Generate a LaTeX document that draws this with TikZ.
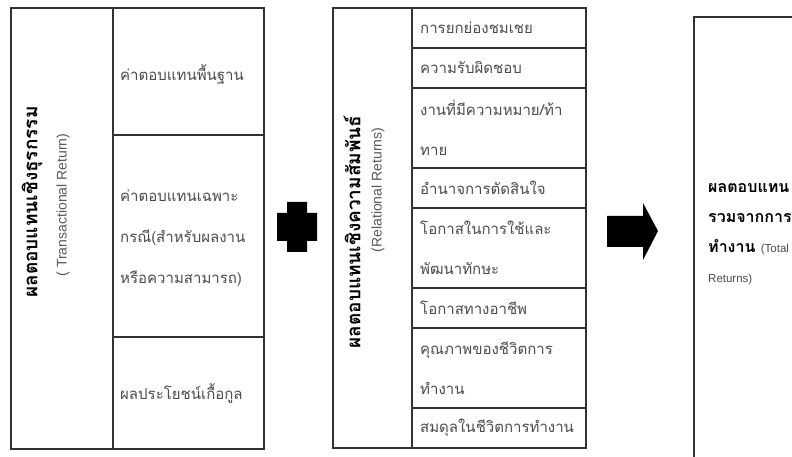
\documentclass[tikz,border=0pt]{standalone}
\usepackage{fontspec}
\setmainfont{Liberation Sans}
\newfontfamily\thai[Script=Thai]{Loma}
\begin{document}
\begin{tikzpicture}[x=1bp,y=-1bp,
  frame/.style={draw=black!80, line width=1.3bp},
  cell/.style={anchor=west, inner sep=0pt, align=left, text=black!70, font=\thai\fontsize{15bp}{40bp}\selectfont},
  vbold/.style={rotate=90, inner sep=0pt, font=\thai\bfseries\fontsize{19bp}{20bp}\selectfont},
  veng/.style={rotate=90, inner sep=0pt, text=black!65, font=\fontsize{14bp}{16bp}\selectfont},
  total/.style={anchor=west, inner sep=0pt, align=left, font=\thai\bfseries\fontsize{16bp}{30bp}\selectfont},
  small/.style={font=\mdseries\rmfamily\fontsize{11.5bp}{30bp}\selectfont},
  blob/.style={fill=black, draw=none}]
\useasboundingbox (0,0) rectangle (792,457);
\fill[white] (0,0) rectangle (792,457);

% ---- left block: transactional returns
\draw[frame] (11,8) rectangle (264,449);
\draw[frame] (113,8) -- (113,449);
\draw[frame] (113,135) -- (264,135);
\draw[frame] (113,337) -- (264,337);
\node[vbold] (tb) at (32,202) {ผลตอบแทนเชิงธุรกรรม};
\node[veng] (te) at (63,205) {( Transactional Return)};
\node[cell] (t1) at (120,75) {ค่าตอบแทนพื้นฐาน};
\node[cell, font=\thai\fontsize{15bp}{41bp}\selectfont] (t2) at (120,238) {ค่าตอบแทนเฉพาะ\\กรณี(สำหรับผลงาน\\หรือความสามารถ)};
\node[cell] (t3) at (120,394) {ผลประโยชน์เกื้อกูล};

% ---- plus sign
\fill[blob] (287,202) -- (307,202) -- (307,213) -- (317,213) -- (317,241) -- (307,241)
  -- (307,252) -- (287,252) -- (287,241) -- (277,241) -- (277,213) -- (287,213) -- cycle;

% ---- middle block: relational returns
\draw[frame] (333,8) rectangle (586,448);
\draw[frame] (412,8) -- (412,448);
\foreach \yy in {48,88,168,208,288,328,408}
  \draw[frame] (412,\yy) -- (586,\yy);
\node[vbold] (rb) at (352,232) {ผลตอบแทนเชิงความสัมพันธ์};
\node[veng] (re) at (378,190) {(Relational Returns)};
\node[cell] (r1) at (420,28) {การยกย่องชมเชย};
\node[cell] (r2) at (420,68) {ความรับผิดชอบ};
\node[cell] (r3) at (420,128) {งานที่มีความหมาย/ท้า\\ทาย};
\node[cell] (r4) at (420,188) {อำนาจการตัดสินใจ};
\node[cell] (r5) at (420,248) {โอกาสในการใช้และ\\พัฒนาทักษะ};
\node[cell] (r6) at (420,308) {โอกาสทางอาชีพ};
\node[cell] (r7) at (420,368) {คุณภาพของชีวิตการ\\ทำงาน};
\node[cell] (r8) at (420,428) {สมดุลในชีวิตการทำงาน};

% ---- arrow
\fill[blob] (607,216) -- (643,216) -- (643,203) -- (658,231) -- (643,260) -- (643,247) -- (607,247) -- cycle;

% ---- right block: total returns
\draw[frame] (800,17) -- (694,17) -- (694,470);
\node[total] (tt) at (708,234) {ผลตอบแทน\\รวมจากการ\\ทำงาน {\color{black!70}\mdseries\rmfamily\fontsize{11.5bp}{30bp}\selectfont (Total}\\{\color{black!70}\mdseries\rmfamily\fontsize{11.5bp}{30bp}\selectfont Returns)}};
\end{tikzpicture}
\end{document}
